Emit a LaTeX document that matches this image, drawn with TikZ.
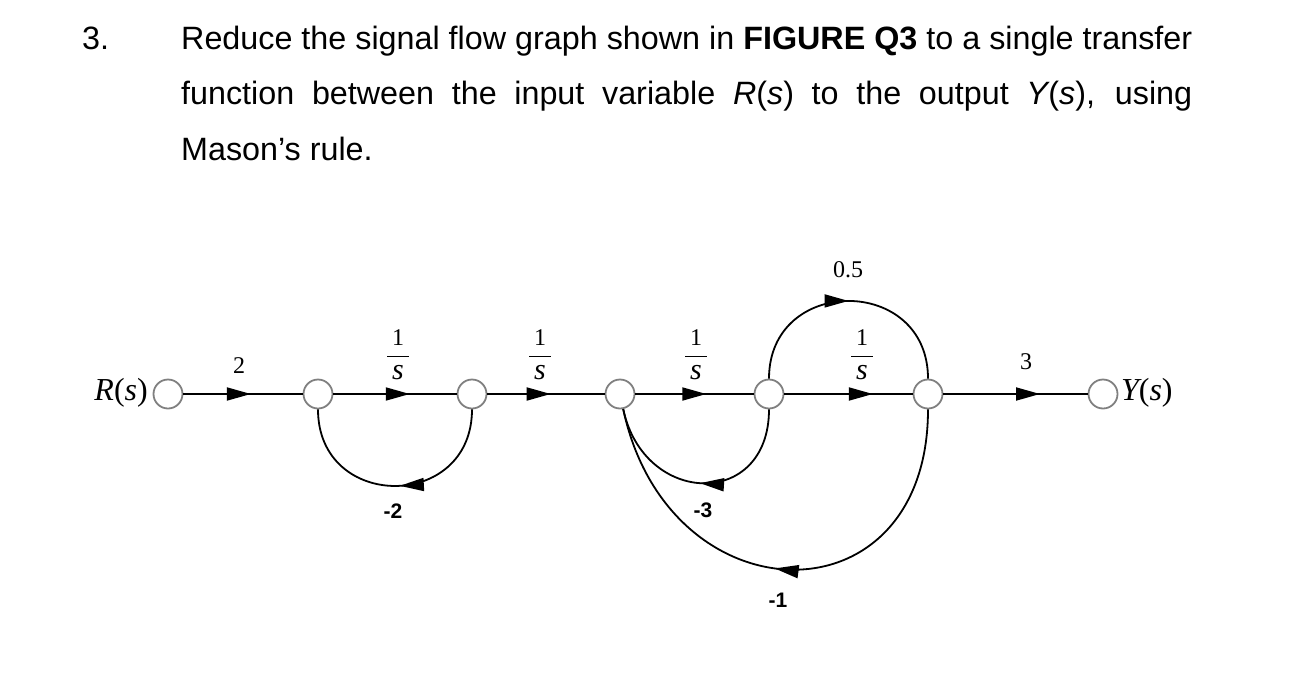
\documentclass[tikz,border=0pt]{standalone}
\usepackage{fontspec}
\setmainfont{Liberation Sans}
\newfontfamily\serifL{Liberation Serif}
\usetikzlibrary{arrows.meta,decorations.markings}

\tikzset{
  sfnode/.style={circle, draw=black!50, line width=1.8pt, fill=white, minimum size=29pt, inner sep=0pt},
  branch/.style={line width=1.8pt, draw=black},
  tipat/.style={postaction={decorate}, decoration={markings, mark=at position #1 with {\arrow{Triangle[length=24pt,width=13pt]}}}},
  qtext/.style={anchor=base west, inner sep=0pt, font=\fontsize{32.3}{38}\selectfont},
  glabel/.style={font=\serifL\fontsize{24}{28}\selectfont, inner sep=0pt},
  vlabel/.style={font=\serifL\fontsize{32}{36}\selectfont, inner sep=0pt},
  nlabel/.style={font=\bfseries\fontsize{21}{24}\selectfont, inner sep=0pt},
}
\newcommand{\oneovers}{$\displaystyle\frac{\makebox[22pt]{1}}{\mbox{\fontsize{30}{30}\selectfont\itshape s}}$}

\begin{document}
\begin{tikzpicture}[x=1pt,y=-1pt]
\useasboundingbox (0,0) rectangle (1292,680);

% question text
\node[qtext] (num) at (82,49) {3.};
\node[qtext] (l1) at (181,49) {\makebox[1011pt][s]{Reduce the signal flow graph shown in \textbf{FIGURE Q3} to a single transfer}};
\node[qtext] (l2) at (181,104) {\makebox[1011pt][s]{function between the input variable \textit{R}(\textit{s}) to the output \textit{Y}\kern-1.5pt(\textit{s}), using}};
\node[qtext] (l3) at (181,160) {Mason’s rule.};

% nodes
\node[sfnode] (r)  at (168,394) {};
\node[sfnode] (n2) at (318,394) {};
\node[sfnode] (n3) at (472,394) {};
\node[sfnode] (n4) at (620,394) {};
\node[sfnode] (n5) at (769,394) {};
\node[sfnode] (n6) at (928,394) {};
\node[sfnode] (y)  at (1103,394) {};

\node[vlabel, anchor=base east] (rl) at (148,400) {\textit{R}(\textit{s})};
\node[vlabel, anchor=base west] (yl) at (1121,400) {\textit{Y}\kern-3pt(\textit{s})};

% forward branches
\draw[branch, tipat=0.566] (r) -- (n2);
\draw[branch, tipat=0.62] (n2) -- (n3);
\draw[branch, tipat=0.54] (n3) -- (n4);
\draw[branch, tipat=0.60] (n4) -- (n5);
\draw[branch, tipat=0.69] (n5) -- (n6);
\draw[branch, tipat=0.67] (n6) -- (y);

% loops
\draw[branch, tipat=0.48] (n3) to[out=-90,in=-90,looseness=1.7] (n2);
\draw[branch, tipat=0.5] (n5) to[out=-90,in=-78,looseness=1.75] (n4);
\draw[branch, tipat=0.52] (n6) to[out=-90,in=-78,looseness=1.82] (n4);
\draw[branch, tipat=0.5] (n5) to[out=90,in=90,looseness=1.67] (n6);

% branch gains
\node[glabel] (g1) at (239,366) {2};
\node[glabel] (g2) at (398,355) {\oneovers};
\node[glabel] (g3) at (540,355) {\oneovers};
\node[glabel] (g4) at (696,355) {\oneovers};
\node[glabel] (g5) at (862,355) {\oneovers};
\node[glabel] (g6) at (1026,362) {3};
\node[glabel] (g7) at (848,270) {0.5};
\node[nlabel] (g8) at (393,511) {-2};
\node[nlabel] (g9) at (703,510) {-3};
\node[nlabel] (g10) at (778,600) {-1};
\end{tikzpicture}
\end{document}
